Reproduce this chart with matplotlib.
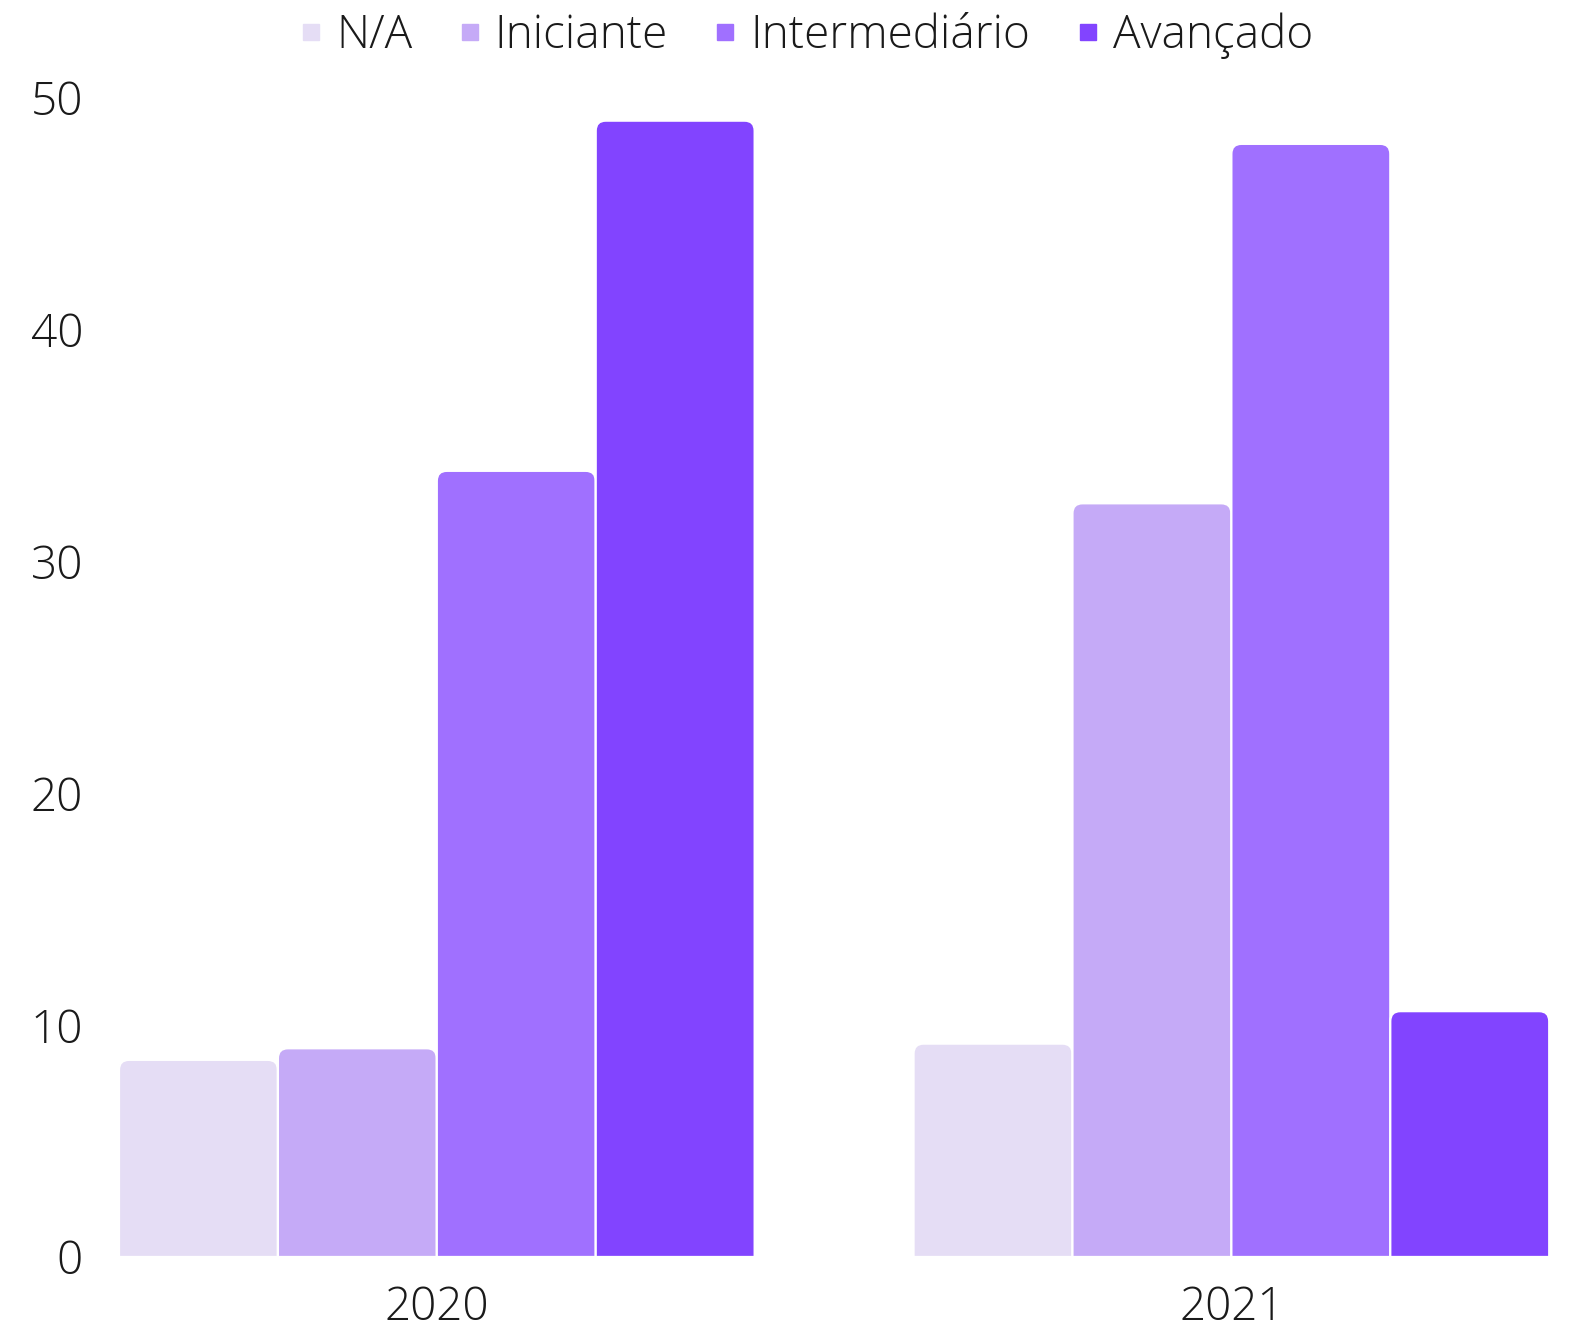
import matplotlib.pyplot as plt
import numpy as np
from matplotlib.path import Path
from matplotlib.patches import PathPatch
from matplotlib.lines import Line2D

plt.rcParams['font.family'] = ['Open Sans', 'DejaVu Sans']

anos = ['2020', '2021']
niveis = ['N/A', 'Iniciante', 'Intermediário', 'Avançado']
valores = {
    'N/A': [8.5, 9.2],
    'Iniciante': [9.0, 32.5],
    'Intermediário': [33.9, 48.0],
    'Avançado': [49.0, 10.6],
}
cores = ['#E5DDF5', '#C5AAF7', '#A070FF', '#8244FF']

fig = plt.figure(figsize=(15.76, 13.3), dpi=100)
ax = fig.add_axes([0.0755, 0.0549, 0.9075, 0.8718])

x = np.arange(len(anos))
largura = 0.2
ax.set_xlim(-0.4, 1.4)
ax.set_ylim(0, 50)

# raio do canto em pixels -> unidades de dados
W = 1576 * 0.9075
H = 1330 * 0.8718
r_px = 10
rx = r_px * 1.8 / W
ry = r_px * 50 / H

def barra_arredondada(x0, w, h, cor):
    x1 = x0 + w
    verts = [(x0, 0), (x0, h - ry), (x0, h), (x0 + rx, h), (x1 - rx, h),
             (x1, h), (x1, h - ry), (x1, 0), (x0, 0)]
    codes = [Path.MOVETO, Path.LINETO, Path.CURVE3, Path.CURVE3, Path.LINETO,
             Path.CURVE3, Path.CURVE3, Path.LINETO, Path.CLOSEPOLY]
    p = PathPatch(Path(verts, codes), facecolor=cor, edgecolor='white', linewidth=1.6)
    ax.add_patch(p)

for i, nivel in enumerate(niveis):
    pos = x - 0.4 + largura * i + largura / 2
    bars = ax.bar(pos, valores[nivel], width=largura, color=cores[i])
    for rect in bars:
        barra_arredondada(rect.get_x(), rect.get_width(), rect.get_height(), cores[i])
        rect.set_visible(False)

ax.set_xticks(x)
ax.set_xticklabels(anos)
ax.set_yticks([0, 10, 20, 30, 40, 50])
ax.tick_params(axis='both', length=0, labelsize=33, colors='#1a1a1a')
ax.tick_params(axis='y', pad=26)
ax.tick_params(axis='x', pad=20)
for lab in ax.get_xticklabels() + ax.get_yticklabels():
    lab.set_fontweight('light')
for s in ax.spines.values():
    s.set_visible(False)

handles = [Line2D([], [], marker='s', linestyle='', markersize=11, color=c) for c in cores]
leg = fig.legend(handles, niveis, loc='center', bbox_to_anchor=(0.508, 0.973), ncol=4,
                 frameon=False, fontsize=33, handletextpad=0.05, columnspacing=0.75,
                 handlelength=1.0)
for t in leg.get_texts():
    t.set_fontweight('light')
    t.set_color('#1a1a1a')

fig.savefig('out.png', dpi=100)
